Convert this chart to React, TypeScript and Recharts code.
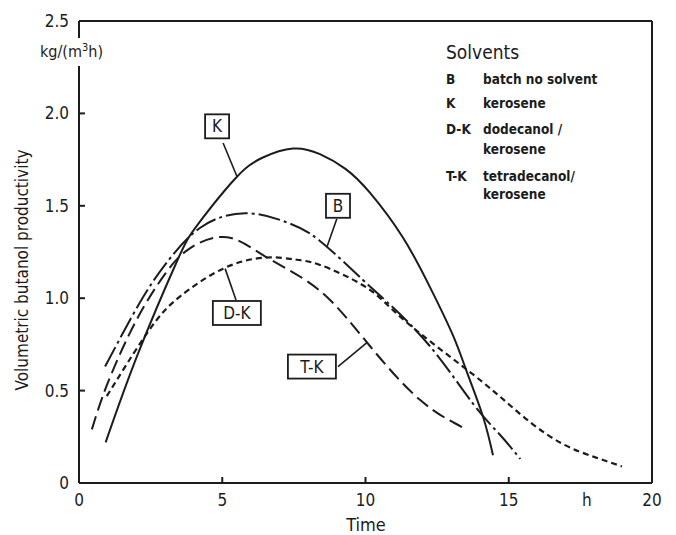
import React from 'react';
import { LineChart, Line, XAxis, YAxis, ReferenceLine, ReferenceDot } from 'recharts';

const FONT = '"DejaVu Sans Condensed", "DejaVu Sans", sans-serif';
const INK = '#1c1c1c';

// axis ticks (the "h" unit sits on the x axis like a tick label)
const X_TICKS = [0, 5, 10, 15, 17.73, 20];
const Y_TICKS = [0, 0.5, 1, 1.5, 2, 2.5];

// K  kerosene (solid)
const K_TIME = [0.93, 2.06, 3.42, 4.15, 5.44, 6.4, 7.47, 8.41, 9.3, 10.16, 11.3, 12.25, 13.05, 13.54, 14.1, 14.45];
const K_PROD = [0.22, 0.7, 1.2, 1.4, 1.645, 1.76, 1.81, 1.78, 1.7, 1.57, 1.33, 1.06, 0.8, 0.6, 0.36, 0.15];

// B  batch no solvent (dash-dot)
const B_TIME = [0.91, 2.1, 3.0, 4.22, 5.8, 7.26, 8.41, 9.9, 10.75, 12.25, 13.75, 14.7, 15.4];
const B_PROD = [0.63, 0.97, 1.18, 1.38, 1.46, 1.41, 1.31, 1.1, 0.98, 0.74, 0.43, 0.26, 0.13];

// D-K  dodecanol / kerosene (short dash)
const DK_TIME = [0.97, 1.9, 2.7, 3.53, 5.03, 6.5, 7.5, 8.41, 9.91, 10.86, 11.9, 13.4, 14.6, 15.74, 16.9, 18.0, 18.95];
const DK_PROD = [0.47, 0.7, 0.88, 1.01, 1.16, 1.22, 1.21, 1.18, 1.07, 0.95, 0.81, 0.63, 0.48, 0.33, 0.21, 0.14, 0.09];

// T-K  tetradecanol / kerosene (long dash)
const TK_TIME = [0.45, 1.0, 2.0, 3.0, 3.87, 5.17, 6.56, 8.41, 10.16, 11.9, 13.4];
const TK_PROD = [0.29, 0.54, 0.88, 1.13, 1.27, 1.33, 1.22, 1.04, 0.74, 0.45, 0.3];

const LEGEND_ROWS = [
  { code: 'B', text: 'batch no solvent', top: 70 },
  { code: 'K', text: 'kerosene', top: 94 },
  { code: 'D-K', text: 'dodecanol /', top: 120 },
  { code: '', text: 'kerosene', top: 140 },
  { code: 'T-K', text: 'tetradecanol/', top: 167 },
  { code: '', text: 'kerosene', top: 185 },
];

const toPoints = (xs: number[], ys: number[]) => xs.map((x, i) => ({ x, v: ys[i] }));

const XTick = (props: any) => {
  const { x, y, payload } = props;
  const isUnit = payload.value === 17.73;
  const axisY = y - 10;
  return (
    <g>
      {!isUnit && payload.value > 0 && payload.value < 20 && (
        <line x1={x} x2={x} y1={axisY} y2={axisY - 6} stroke={INK} strokeWidth={2} />
      )}
      <text x={x} y={y} dy={13} textAnchor="middle" fontSize={17} fontFamily={FONT} fill={INK}>
        {isUnit ? 'h' : payload.value}
      </text>
    </g>
  );
};

const YTick = (props: any) => {
  const { x, y, payload } = props;
  const axisX = x + 10;
  const v = payload.value;
  return (
    <g>
      {v > 0 && v < 2.5 && (
        <line x1={axisX} x2={axisX + 6} y1={y} y2={y} stroke={INK} strokeWidth={2} />
      )}
      <text x={x} y={y} dy={6} textAnchor="end" fontSize={17} fontFamily={FONT} fill={INK}>
        {v === 0 ? '0' : v.toFixed(1)}
      </text>
    </g>
  );
};

const tagShape = (label: string, w: number) => (p: any) => (
  <g>
    <rect x={p.cx - w / 2} y={p.cy - 12} width={w} height={24} fill="#fff" stroke={INK} strokeWidth={1.8} />
    <text x={p.cx} y={p.cy} dy={6} textAnchor="middle" fontSize={17} fontFamily={FONT} fill={INK}>
      {label}
    </text>
  </g>
);

const leader = { stroke: INK, strokeWidth: 1.6 };

export default function App() {
  return (
    <div style={{ position: 'relative', width: 676, height: 535, background: '#fff', fontFamily: FONT }}>
      <style>{'body{margin:0}'}</style>
      <LineChart width={676} height={535} margin={{ top: 21, right: 24, bottom: 12, left: 20 }}>
        <XAxis
          dataKey="x"
          type="number"
          domain={[0, 20]}
          ticks={X_TICKS}
          height={40}
          tickSize={0}
          tickMargin={10}
          tick={<XTick />}
          axisLine={{ stroke: INK, strokeWidth: 2 }}
          label={{
            content: () => (
              <text x={366} y={531} textAnchor="middle" fontSize={18} fontFamily={FONT} fill={INK}>Time</text>
            ),
          }}
        />
        <YAxis
          dataKey="v"
          type="number"
          domain={[0, 2.5]}
          ticks={Y_TICKS}
          width={59}
          tickSize={0}
          tickMargin={10}
          tick={<YTick />}
          axisLine={{ stroke: INK, strokeWidth: 2 }}
          label={{
            content: () => (
              <text x={28} y={270} transform="rotate(-90 28 270)" textAnchor="middle" fontSize={17} fontFamily={FONT} fill={INK}>
                Volumetric butanol productivity
              </text>
            ),
          }}
        />
        <ReferenceLine y={2.5} stroke={INK} strokeWidth={2} />
        <ReferenceLine x={20} stroke={INK} strokeWidth={2} />

        <Line data={toPoints(K_TIME, K_PROD)} dataKey="v" type="natural" stroke={INK} strokeWidth={2} dot={false} isAnimationActive={false} />
        <Line data={toPoints(B_TIME, B_PROD)} dataKey="v" type="natural" stroke={INK} strokeWidth={2} strokeDasharray="22 4 3 4" dot={false} isAnimationActive={false} />
        <Line data={toPoints(DK_TIME, DK_PROD)} dataKey="v" type="natural" stroke={INK} strokeWidth={2.2} strokeDasharray="6 4" dot={false} isAnimationActive={false} />
        <Line data={toPoints(TK_TIME, TK_PROD)} dataKey="v" type="natural" stroke={INK} strokeWidth={2} strokeDasharray="14 6" dot={false} isAnimationActive={false} />

        <ReferenceLine segment={[{ x: 5.03, y: 1.84 }, { x: 5.51, y: 1.66 }]} {...leader} />
        <ReferenceLine segment={[{ x: 9.0, y: 1.43 }, { x: 8.66, y: 1.28 }]} {...leader} />
        <ReferenceLine segment={[{ x: 5.48, y: 0.99 }, { x: 5.1, y: 1.16 }]} {...leader} />
        <ReferenceLine segment={[{ x: 9.04, y: 0.63 }, { x: 10.05, y: 0.76 }]} {...leader} />

        <ReferenceDot x={4.82} y={1.93} r={0} shape={tagShape('K', 24)} />
        <ReferenceDot x={9.04} y={1.5} r={0} shape={tagShape('B', 24)} />
        <ReferenceDot x={5.51} y={0.92} r={0} shape={tagShape('D-K', 48)} />
        <ReferenceDot x={8.13} y={0.63} r={0} shape={tagShape('T-K', 48)} />
      </LineChart>

      <div style={{ position: 'absolute', left: 38, top: 38, height: 28, lineHeight: '28px', padding: '0 2px', background: '#fff', fontSize: 16, color: INK }}>
        kg/(m<sup style={{ fontSize: 11, verticalAlign: 'super', lineHeight: 0 }}>3</sup>h)
      </div>

      <div style={{ position: 'absolute', left: 446, top: 41, fontSize: 19, color: INK, lineHeight: '22px' }}>Solvents</div>
      {LEGEND_ROWS.map((r, i) => (
        <div key={i} style={{ position: 'absolute', left: 446, top: r.top, fontSize: 13.5, fontWeight: 'bold', color: INK, lineHeight: '18px', whiteSpace: 'nowrap' }}>
          <span style={{ display: 'inline-block', width: 37 }}>{r.code}</span>
          {r.text}
        </div>
      ))}
    </div>
  );
}
